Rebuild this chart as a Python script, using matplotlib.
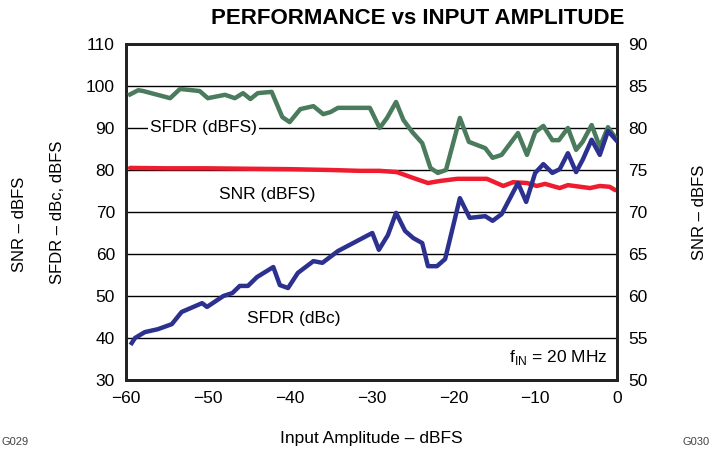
import numpy as np
import matplotlib
matplotlib.use("Agg")
import matplotlib.pyplot as plt

plt.rcParams['font.family'] = ['Liberation Sans', 'DejaVu Sans']
plt.rcParams['mathtext.fontset'] = 'custom'
plt.rcParams['mathtext.rm'] = 'Liberation Sans'

# SFDR (dBFS), left axis
sfdr_fs_x = [-59.5, -58.5, -57.9, -54.6, -53.4, -51.0, -50.0, -47.9, -46.7, -45.7,
             -44.8, -43.9, -42.2, -40.9, -40.0, -38.7, -37.1, -35.9, -35.0, -34.1,
             -30.2, -29.0, -28.1, -27.0, -26.1, -25.0, -23.8, -22.8, -21.9, -20.9,
             -19.2, -18.1, -16.1, -15.2, -14.1, -12.1, -11.0, -10.0, -9.0, -7.9,
             -7.1, -6.0, -5.0, -4.2, -3.1, -2.1, -1.1, -0.1]
sfdr_fs = [98.0, 99.0, 98.8, 97.1, 99.3, 98.8, 97.1, 97.9, 97.1, 98.3,
           96.9, 98.3, 98.6, 92.6, 91.4, 94.5, 95.2, 93.3, 93.8, 94.8,
           94.8, 90.0, 92.4, 96.2, 91.9, 89.0, 86.4, 80.5, 79.3, 80.0,
           92.4, 86.7, 85.2, 82.9, 83.6, 88.8, 83.6, 89.0, 90.5, 87.1,
           87.1, 90.0, 84.8, 86.7, 90.7, 85.5, 90.2, 87.4]

# SNR (dBFS), right axis
snr_x = [-59.5, -55.0, -50.0, -45.0, -40.0, -35.0, -31.4, -29.0, -26.9, -24.9,
         -23.1, -21.6, -19.5, -18.0, -15.9, -13.9, -12.7, -11.0, -9.8, -8.8,
         -7.0, -6.0, -3.3, -2.1, -0.9, -0.2]
snr = [75.25, 75.2, 75.2, 75.15, 75.1, 75.0, 74.9, 74.9, 74.75, 74.05,
       73.45, 73.7, 73.95, 73.95, 73.95, 73.1, 73.55, 73.45, 73.1, 73.35,
       72.85, 73.2, 72.85, 73.1, 73.0, 72.6]

# SFDR (dBc), left axis
sfdr_c_x = [-59.3, -58.9, -57.7, -56.1, -54.4, -53.2, -50.7, -50.1, -48.1, -47.0,
            -46.1, -45.1, -44.0, -42.0, -41.2, -40.2, -39.0, -37.1, -36.0, -34.1,
            -30.4, -29.9, -29.1, -28.0, -27.0, -25.9, -24.9, -23.8, -23.1, -22.0,
            -21.0, -19.2, -18.0, -16.1, -15.2, -14.1, -12.1, -11.1, -10.0, -9.0,
            -7.9, -7.0, -6.0, -5.0, -4.2, -3.1, -2.1, -1.1, -0.1]
sfdr_c = [38.8, 40.0, 41.4, 42.1, 43.3, 46.2, 48.3, 47.4, 50.0, 50.7,
          52.4, 52.4, 54.5, 56.9, 52.6, 51.9, 55.5, 58.3, 57.9, 60.7,
          64.5, 65.0, 61.0, 64.5, 69.8, 65.5, 63.8, 62.6, 57.1, 57.1,
          58.8, 73.3, 68.6, 69.0, 67.9, 69.5, 76.9, 72.4, 79.3, 81.4,
          79.3, 80.2, 84.0, 79.5, 82.4, 87.2, 83.6, 89.3, 87.1]

x_ticks = [-60, -50, -40, -30, -20, -10, 0]
left_ticks = [30, 40, 50, 60, 70, 80, 90, 100, 110]
right_ticks = [50, 55, 60, 65, 70, 75, 80, 85, 90]

green = '#4a7b5c'
red = '#ee1c2e'
blue = '#2c3190'

fig = plt.figure(figsize=(7.16, 4.49), dpi=100)
ax = fig.add_axes([126 / 716, 1 - 380 / 449, 491 / 716, 336 / 449])
ax2 = ax.twinx()
# SNR axis sits underneath so the SFDR traces draw over it
ax2.set_zorder(ax.get_zorder() - 1)
ax.patch.set_visible(False)

ax2.plot(snr_x, snr, color=red, lw=3.2, solid_capstyle='round', zorder=3)
ax.plot(sfdr_fs_x, sfdr_fs, color=green, lw=3.2, solid_joinstyle='round', zorder=3)
ax.plot(sfdr_c_x, sfdr_c, color=blue, lw=3.2, solid_joinstyle='round', zorder=4)

ax.set_xlim(-60, 0)
ax.set_ylim(30, 110)
ax2.set_ylim(50, 90)
ax.set_xticks(x_ticks)
ax.set_xticklabels([str(t).replace('-', '\u2212') for t in x_ticks])
ax.set_yticks(left_ticks)
ax2.set_yticks(right_ticks)

ax2.grid(True, color='black', lw=1.0)
ax2.set_axisbelow(True)
for a in (ax, ax2):
    a.tick_params(length=0, labelsize=12.5, pad=8)
    for s in a.spines.values():
        s.set_linewidth(2.0)
        s.set_color('#222222')

ax.set_xlabel('Input Amplitude \u2013 dBFS', fontsize=12.5, labelpad=18)
ax2.set_ylabel('SNR \u2013 dBFS', fontsize=12, labelpad=32)
ax.set_ylabel('SFDR \u2013 dBc, dBFS', fontsize=12, labelpad=15)
fig.text(20 / 716, 0.5, 'SNR \u2013 dBFS', rotation=90, fontsize=12,
         ha='center', va='center')

fig.text(418 / 716, 1 - 18 / 449, 'PERFORMANCE vs INPUT AMPLITUDE',
         fontsize=16, fontweight='bold', ha='center', va='center')

box = dict(facecolor='white', edgecolor='none', pad=1.5)
ax.text(-50.5, 90, 'SFDR (dBFS)', fontsize=12.5, ha='center', va='center', bbox=box, zorder=5)
ax.text(-42.8, 74.2, 'SNR (dBFS)', fontsize=12.5, ha='center', va='center', bbox=box, zorder=5)
ax.text(-39.5, 44.6, 'SFDR (dBc)', fontsize=12.5, ha='center', va='center', bbox=box, zorder=5)
ax.text(-7.2, 35.3, r'f$_{\mathrm{IN}}$ = 20 MHz', fontsize=12.5, ha='center', va='center',
        bbox=dict(facecolor='white', edgecolor='none', pad=2), zorder=5)

fig.text(2 / 716, 1 - 447 / 449, 'G029', fontsize=8, color='#444444', ha='left', va='bottom')
fig.text(710 / 716, 1 - 447 / 449, 'G030', fontsize=8, color='#444444', ha='right', va='bottom')

fig.savefig('out.png', dpi=100)
